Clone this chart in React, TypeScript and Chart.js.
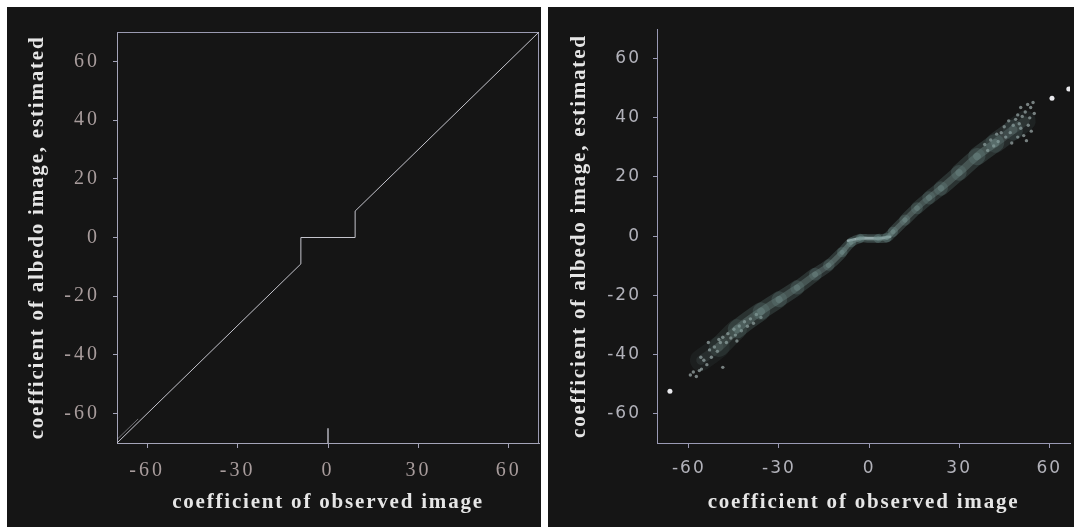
import React, { useEffect, useRef } from "react";
import { Chart, registerables } from "chart.js";

Chart.register(...registerables);

// ---------- Left panel: estimated vs observed (hard-threshold curve) ----------
const leftX = [-70, -9, -9, 9, 9, 70];
const leftY = [-70, -9, 0, 0, 9, 70];
// faint duplicate stroke near the lower-left corner
const leftGhostX = [-70, -63];
const leftGhostY = [-68.8, -61.8];
// short vertical mark at x = 0 near the bottom
const leftMarkX = [0, 0];
const leftMarkY = [-65, -70];

// ---------- Right panel: scatter cloud ----------
const bandX = [-56, -50, -44, -36, -30, -24, -18, -13.5, -9, -6, -3, 0, 3, 6, 8, 12, 16, 20, 24, 30, 36, 42, 48, 52];
const bandY = [-42, -37.5, -31.5, -25.5, -21.5, -17.5, -13, -9.9, -5.5, -2.2, -0.8, -0.8, -0.8, -0.5, 1.5, 5.5, 9.5, 13, 16.2, 21.5, 27, 31.5, 36, 39];
const coreX = [-7, -3, 0, 3, 7];
const coreY = [-1.6, -0.8, -0.7, -0.8, -0.2];
const dotX = [
  -59.5, -58.5, -57.5, -56.5, -55.8, -55, -54, -53.1, -52.5, -51.5, -50.5, -49.5, -48.7, -48.7, -47.5,
  -47, -46, -45, -44.5, -43.2, -42.5, -41.5, -40.5, -39.5, -38.5, -37.5, -36, -53.5, -56, -50, -44,
  54.6, 53.8, 52.8, 52, 51, 50.5, 49.5, 48.8, 53, 54, 52.4, 51.5, 50.5, 49.5, 48, 47, 46.5, 45.5, 45,
  44, 43, 42.5, 41.5, 40.5, 39.5, 38.5, 53.5, 55, 47.5, 50,
];
const dotY = [
  -47, -46, -47.5, -45.5, -45, -42, -43.5, -38.5, -41, -37.5, -39, -36, -44.4, -34.2, -36,
  -33, -34.5, -31.5, -33.5, -30.4, -32, -29, -30.5, -28, -29.5, -26.5, -27.5, -36, -41, -35, -35.5,
  45.2, 43.5, 44.5, 42, 40.5, 43.5, 41, 39.5, 37.5, 35.5, 32.3, 34, 36.5, 33.5, 37.5, 35, 39, 33.5, 37,
  35, 32, 34.5, 30.5, 32.5, 29, 31, 40, 41.5, 31.5, 38,
];
const brightX = [-66.3, 60.9, 66.5];
const brightY = [-52.5, 46.6, 49.8];

// ---------- Axes ----------
const xTicks = [-60, -30, 0, 30, 60];
const yTicks = [-60, -40, -20, 0, 20, 40, 60];
const xTitle = "coefficient of observed image";
const yTitle = "coefficient of albedo image, estimated";

const pts = (xs: number[], ys: number[]) => xs.map((x, i) => ({ x, y: ys[i] }));

const spacingPlugin = (titleSp: string, tickSp: string) => ({
  id: "spacing",
  beforeDraw(chart: any) {
    chart.ctx.letterSpacing = titleSp;
  },
  afterDatasetsDraw(chart: any) {
    chart.ctx.letterSpacing = tickSp;
  },
  afterDraw(chart: any) {
    chart.ctx.letterSpacing = "0px";
  },
});

const boxPlugin = {
  id: "box",
  beforeDatasetsDraw(chart: any) {
    const { ctx, chartArea: a } = chart;
    ctx.save();
    ctx.strokeStyle = "#9a9ab0";
    ctx.lineWidth = 1;
    ctx.beginPath();
    ctx.moveTo(a.left, a.top + 0.5);
    ctx.lineTo(a.right - 0.5, a.top + 0.5);
    ctx.lineTo(a.right - 0.5, a.bottom);
    ctx.stroke();
    ctx.restore();
  },
};

function makeScales(opts: {
  xMin: number;
  xMax: number;
  yWidth: number;
  tickFont: any;
  tickColor: string;
  axisColor: string;
  yTitlePad: number;
  yTickPad: number;
  xTickPad: number;
}) {
  const titleFont = { family: "'Liberation Serif', 'Times New Roman', serif", size: 21, weight: "bold" as const };
  return {
    x: {
      type: "linear" as const,
      min: opts.xMin,
      max: opts.xMax,
      afterBuildTicks: (s: any) => {
        s.ticks = xTicks.map((v) => ({ value: v }));
      },
      afterFit: (s: any) => {
        s.height = 84;
      },
      grid: { drawOnChartArea: false, drawTicks: true, tickLength: 5, color: opts.axisColor },
      border: { display: true, color: opts.axisColor, width: 1 },
      ticks: { color: opts.tickColor, font: opts.tickFont, padding: opts.xTickPad, maxRotation: 0, autoSkip: false, z: 1 },
      title: { display: true, text: xTitle, color: "#e6e6e6", font: titleFont, padding: { top: 0, bottom: 12 } },
    },
    y: {
      type: "linear" as const,
      min: -70,
      max: 70,
      afterBuildTicks: (s: any) => {
        s.ticks = yTicks.map((v) => ({ value: v }));
      },
      afterFit: (s: any) => {
        s.width = opts.yWidth;
      },
      grid: { drawOnChartArea: false, drawTicks: true, tickLength: 4, color: opts.axisColor },
      border: { display: true, color: opts.axisColor, width: 1 },
      ticks: { color: opts.tickColor, font: opts.tickFont, padding: opts.yTickPad, autoSkip: false, z: 1 },
      title: { display: true, text: yTitle, color: "#e6e6e6", font: titleFont, padding: { top: opts.yTitlePad, bottom: 0 } },
    },
  };
}

function LeftChart() {
  const ref = useRef<HTMLCanvasElement>(null);
  useEffect(() => {
    const chart = new Chart(ref.current!, {
      type: "scatter",
      data: {
        datasets: [
          {
            data: pts(leftMarkX, leftMarkY),
            showLine: true,
            borderColor: "rgba(200,200,210,0.6)",
            borderWidth: 1,
            pointRadius: 0,
          },
          {
            data: pts(leftGhostX, leftGhostY),
            showLine: true,
            borderColor: "rgba(200,200,210,0.5)",
            borderWidth: 1,
            pointRadius: 0,
          },
          {
            data: pts(leftX, leftY),
            showLine: true,
            borderColor: "#c4c4cc",
            borderWidth: 1,
            pointRadius: 0,
          },
        ],
      },
      options: {
        responsive: false,
        animation: false,
        layout: { padding: { top: 8, right: 2, left: 0, bottom: 0 } },
        plugins: { legend: { display: false }, tooltip: { enabled: false } },
        scales: makeScales({
          xMin: -70,
          xMax: 70,
          yWidth: 110,
          tickFont: { family: "'Liberation Serif', 'Times New Roman', serif", size: 20 },
          tickColor: "#a89c9c",
          axisColor: "#a4a4b8",
          yTitlePad: 18,
          yTickPad: 13,
          xTickPad: 11,
        }) as any,
      },
      plugins: [boxPlugin, spacingPlugin("1.8px", "3px")],
    });
    return () => chart.destroy();
  }, []);
  return <canvas ref={ref} width={534} height={520} style={{ width: 534, height: 520, display: "block" }} />;
}

const midX = (ctx: any) => Math.abs((ctx.p0.parsed.x + ctx.p1.parsed.x) / 2);
const bandWidth = (ctx: any, base: number, k: number) => base + k * midX(ctx);
const bandAlpha = (ctx: any, rgb: string, a: number) => {
  const x = midX(ctx);
  let f = x > 40 ? Math.max(0.35, 1 - (x - 40) / 18) : 1;
  f *= 1 + 0.7 * Math.max(0, 1 - x / 16);
  return `rgba(${rgb},${Math.min(1, a * f).toFixed(3)})`;
};

function RightChart() {
  const ref = useRef<HTMLCanvasElement>(null);
  useEffect(() => {
    const chart = new Chart(ref.current!, {
      type: "scatter",
      data: {
        datasets: [
          {
            data: pts(bandX, bandY),
            showLine: true,
            borderColor: "rgba(105,135,132,0.26)",
            borderWidth: 12,
            borderCapStyle: "round",
            borderJoinStyle: "round",
            segment: {
              borderWidth: (c: any) => bandWidth(c, 8, 0.26),
              borderColor: (c: any) => bandAlpha(c, "105,135,132", 0.26),
            },
            tension: 0.4,
            pointRadius: 0,
          } as any,
          {
            data: pts(bandX, bandY),
            showLine: true,
            borderColor: "rgba(150,178,175,0.3)",
            borderWidth: 5,
            borderCapStyle: "round",
            borderJoinStyle: "round",
            segment: {
              borderWidth: (c: any) => bandWidth(c, 4, 0.1),
              borderColor: (c: any) => bandAlpha(c, "150,178,175", 0.3),
            },
            tension: 0.4,
            pointRadius: 0,
          } as any,
          {
            data: pts(coreX, coreY),
            showLine: true,
            borderColor: "rgba(235,238,245,0.85)",
            borderWidth: 2.5,
            borderCapStyle: "round",
            tension: 0.4,
            pointRadius: 0,
          },
          {
            data: pts(dotX, dotY),
            showLine: false,
            backgroundColor: "rgba(185,200,200,0.6)",
            borderWidth: 0,
            pointRadius: 1.7,
          },
          {
            data: pts(brightX, brightY),
            showLine: false,
            backgroundColor: "#e8e8ec",
            borderWidth: 0,
            pointRadius: 2.5,
          },
        ],
      },
      options: {
        responsive: false,
        animation: false,
        layout: { padding: { top: 8, right: 0, left: 0, bottom: 0 } },
        plugins: { legend: { display: false }, tooltip: { enabled: false } },
        scales: makeScales({
          xMin: -70.6,
          xMax: 66.9,
          yWidth: 109,
          tickFont: { family: "'DejaVu Sans', sans-serif", size: 17 },
          tickColor: "#b2b2ba",
          axisColor: "#9a9ab4",
          yTitlePad: 19,
          yTickPad: 12,
          xTickPad: 10,
        }) as any,
      },
      plugins: [spacingPlugin("1.8px", "2px")],
    });
    return () => chart.destroy();
  }, []);
  return <canvas ref={ref} width={526} height={520} style={{ width: 526, height: 520, display: "block" }} />;
}

export default function App() {
  return (
    <div style={{ position: "absolute", left: 0, top: 0, width: 1074, height: 527, background: "#ffffff", overflow: "hidden" }}>
      <div style={{ position: "absolute", left: 7, top: 7, width: 534, height: 520, background: "#151515" }}>
        <LeftChart />
      </div>
      <div style={{ position: "absolute", left: 548, top: 7, width: 526, height: 520, background: "#151515" }}>
        <RightChart />
      </div>
    </div>
  );
}
